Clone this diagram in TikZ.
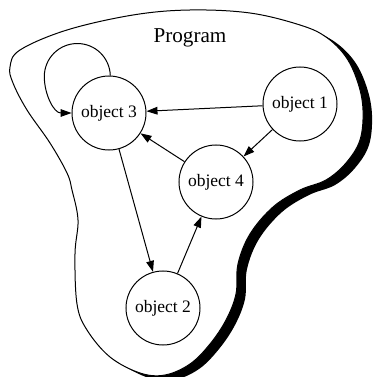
\documentclass[tikz,border=0pt]{standalone}
\usepackage{fontspec}
\setmainfont{Liberation Serif}
\usetikzlibrary{arrows.meta}
\tikzset{
  obj/.style={draw, circle, line width=0.6pt, inner sep=0pt, minimum size=44.4pt, font=\fontsize{10.5}{12}\selectfont},
  msg/.style={-{Triangle[length=6.6pt,width=4.6pt]}, line width=0.6pt},
}
\begin{document}
\begin{tikzpicture}[x=0.6pt, y=0.6pt]
\useasboundingbox (0,0) rectangle (373,377);
\clip (0,0) rectangle (373,377);
% program region with shadow
\def\blob{(10,310) (20,327) (67,347) (133,362) (190,367) (250,364) (300,352) (326,340) (346,320) (358,294) (363,267) (360,237) (346,214) (326,197) (300,187) (273,170) (250,143) (238,113) (236,83) (226,57) (210,33) (190,13) (165,2) (140,4) (110,20) (87,47) (77,73) (75,123) (78,157) (72,187) (67,204) (50,234) (27,267) (13,294)}
\fill[black, shift={(9,-5)}] plot[smooth cycle, tension=0.6] coordinates \blob;
\draw[fill=white, line width=0.6pt] plot[smooth cycle, tension=0.6] coordinates \blob;
\node[font=\fontsize{12.7}{15}\selectfont] (prog) at (190,339) {Program};
% objects
\node[obj] (o3) at (109,264) {object 3};
\node[obj] (o1) at (300,273) {object 1};
\node[obj] (o4) at (216,195) {object 4};
\node[obj] (o2) at (163,69) {object 2};
% messages
\draw[msg] (o1) -- (o3);
\draw[msg] (o1) -- (o4);
\draw[msg] (o4) -- (o3);
\draw[msg] (o3) -- (o2);
\draw[msg] (o2) -- (o4);
\draw[msg] (o3.88) to[out=92,in=0] ++(-33,32) to[out=180,in=90] ++(-33,-33) to[out=-90,in=180] (o3.west);
\end{tikzpicture}
\end{document}
